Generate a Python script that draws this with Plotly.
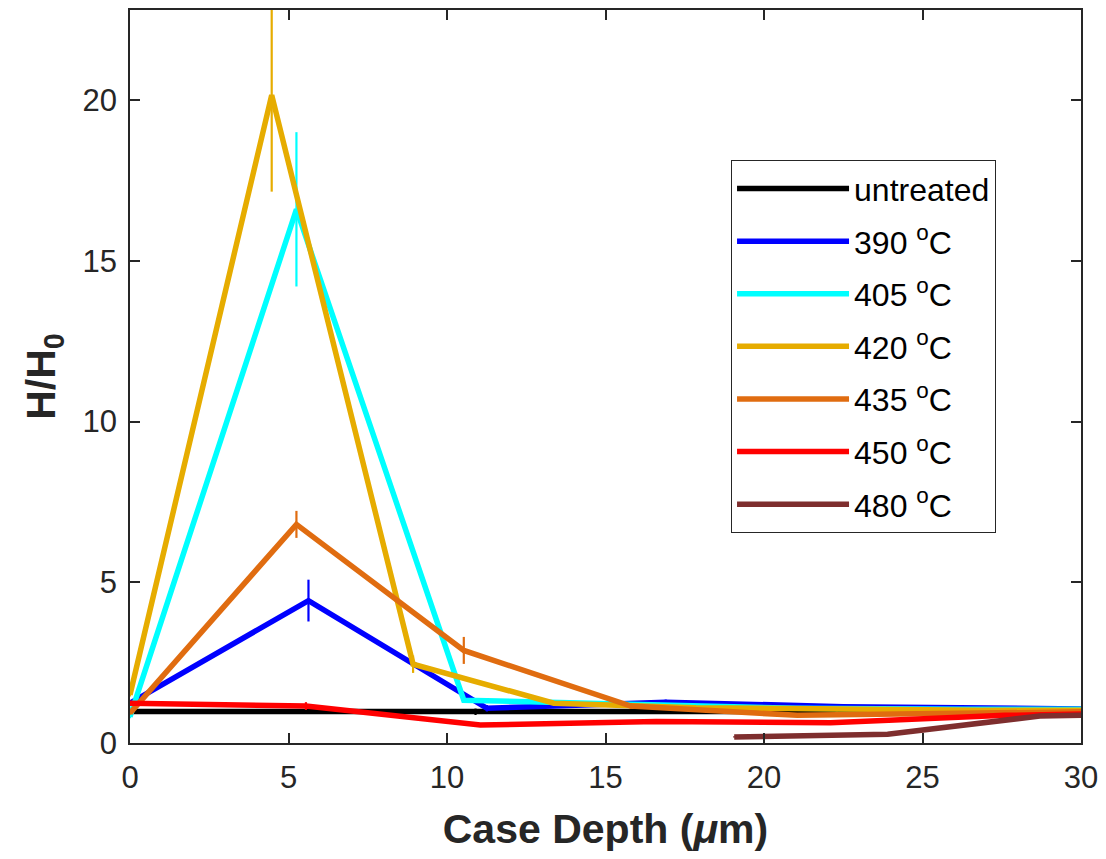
import plotly.graph_objects as go

# ---- data ----
x_untreated = [0, 5.45, 10.9, 16.35, 21.8, 27.25, 30]
y_untreated = [0.98, 0.98, 0.97, 0.98, 0.98, 0.98, 0.98]
e_untreated = [0.05, 0.05, 0.1, 0.05, 0.15, 0.05, 0.0]

x_390 = [0, 5.63, 11.26, 16.9, 22.5, 28.1, 30]
y_390 = [1.24, 4.43, 1.08, 1.27, 1.13, 1.07, 1.06]
e_390 = [0.05, 0.65, 0.1, 0.08, 0.08, 0.05, 0.0]

x_405 = [0, 5.25, 10.53, 15.8, 21.0, 26.3, 30]
y_405 = [0.82, 16.6, 1.33, 1.2, 1.08, 1.05, 1.05]
e_405 = [0.05, 2.4, 0.05, 0.05, 0.05, 0.05, 0.0]

x_420 = [0, 4.47, 8.93, 13.37, 17.85, 22.3, 26.8, 30]
y_420 = [1.5, 20.15, 2.45, 1.24, 1.1, 1.04, 1.02, 1.02]
e_420 = [0.05, 3.0, 0.27, 0.05, 0.05, 0.05, 0.05, 0.0]

x_435 = [0, 5.25, 10.53, 15.8, 21.05, 26.3, 30]
y_435 = [0.93, 6.8, 2.88, 1.15, 0.86, 0.92, 0.97]
e_435 = [0.05, 0.42, 0.42, 0.08, 0.05, 0.05, 0.0]

x_450 = [0, 5.55, 11.05, 16.6, 22.1, 27.6, 30]
y_450 = [1.24, 1.15, 0.56, 0.67, 0.63, 0.86, 0.9]
e_450 = [0.03, 0.12, 0.05, 0.06, 0.06, 0.05, 0.0]

x_480 = [19.06, 23.9, 28.7, 30]
y_480 = [0.19, 0.27, 0.84, 0.86]
e_480 = [0.02, 0.02, 0.05, 0.0]

series_names = ["untreated", "390 <sup>o</sup>C", "405 <sup>o</sup>C", "420 <sup>o</sup>C",
                "435 <sup>o</sup>C", "450 <sup>o</sup>C", "480 <sup>o</sup>C"]
series_colors = ["#000000", "#0000FF", "#00FFFF", "#E6AC00", "#E06C10", "#FF0000", "#7E2E2E"]

x_ticks = [0, 5, 10, 15, 20, 25, 30]
y_ticks = [0, 5, 10, 15, 20]

xs = [x_untreated, x_390, x_405, x_420, x_435, x_450, x_480]
ys = [y_untreated, y_390, y_405, y_420, y_435, y_450, y_480]
es = [e_untreated, e_390, e_405, e_420, e_435, e_450, e_480]

FONT = "Liberation Sans, Arial, Helvetica, sans-serif"

fig = go.Figure()
for i, (x, y, e, n, c) in enumerate(zip(xs, ys, es, series_names, series_colors)):
    fig.add_trace(go.Scatter(
        x=x, y=y, mode="lines", name=n, legendgroup=str(i),
        line=dict(color=c, width=5.5),
        error_y=dict(type="data", array=e, visible=True, color=c, thickness=2.2, width=0),
    ))

axis_common = dict(
    showline=True, linecolor="#262626", linewidth=1.5, mirror="ticks",
    ticks="inside", ticklen=10, tickwidth=1.5, tickcolor="#262626",
    showgrid=False, zeroline=False,
    tickfont=dict(family=FONT, size=31, color="#262626"),
)

fig.update_layout(
    width=1106, height=859,
    margin=dict(l=130, r=22, t=8, b=116),
    paper_bgcolor="white", plot_bgcolor="white",
    xaxis=dict(range=[0, 30], tickvals=x_ticks, ticklabelstandoff=6,
               title=dict(text="Case Depth (<i>μ</i>m)", standoff=20,
                          font=dict(family=FONT, size=41, color="#262626", weight="bold")),
               **axis_common),
    yaxis=dict(range=[0, 22.8], tickvals=y_ticks, ticklabelstandoff=5,
               title=dict(text="H/H<sub>0</sub>", standoff=14,
                          font=dict(family=FONT, size=41, color="#262626", weight="bold")),
               **axis_common),
    legend=dict(x=0.632, y=0.795, xanchor="left", yanchor="top",
                bordercolor="#262626", borderwidth=1, bgcolor="white",
                font=dict(family=FONT, size=32, color="black"),
                tracegroupgap=8, itemwidth=112),
    showlegend=True,
)

fig.write_html("out.html")
